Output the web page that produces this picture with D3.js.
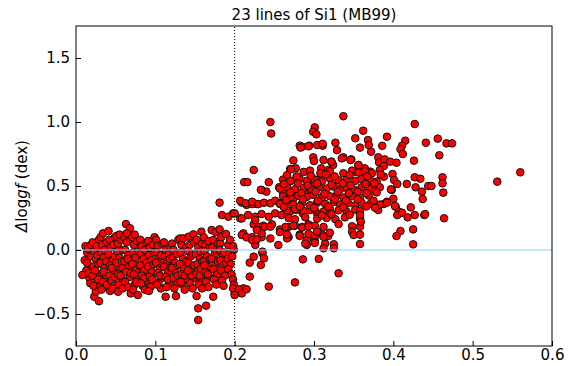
<!DOCTYPE html>
<html lang="en">
<head>
<meta charset="utf-8">
<script src="https://d3js.org/d3.v7.min.js"></script>
<style>
  body { margin: 0; background: #fff; }
  text { font-family: "DejaVu Sans", sans-serif; }
</style>
</head>
<body>
<script>
// chart texts and ticks
var title = "23 lines of Si1 (MB99)";
var xTicks = [0.0, 0.1, 0.2, 0.3, 0.4, 0.5, 0.6];
var yTicks = [-0.5, 0.0, 0.5, 1.0, 1.5];
var xDomain = [0.0, 0.6];
var yDomain = [-0.75, 1.75];
var cutX = 0.2;   // vertical dotted line
var zeroY = 0.0;  // horizontal reference line

// low cluster, x < 0.2  [x, dloggf]
var blobPts = [
  [0.012,0.03],[0.014,-0.02],[0.011,-0.08],[0.016,-0.12],[0.013,-0.16],[0.008,-0.195],[0.017,-0.22],[0.019,-0.05],[0.015,0.01],[0.018,-0.26],[0.016,-0.18],[0.019,0.04],[0.014,-0.1],
  [0.021,0.06],[0.023,-0.01],[0.025,-0.07],[0.022,-0.13],[0.027,-0.19],[0.024,-0.24],[0.029,-0.29],[0.023,-0.365],[0.025,-0.326],[0.029,-0.40],[0.026,0.03],[0.028,-0.11],[0.021,-0.2],[0.027,-0.04],[0.029,0.08],[0.024,-0.16],[0.022,-0.28],[0.028,-0.23],
  [0.031,0.1],[0.033,0.04],[0.032,-0.02],[0.035,-0.06],[0.031,-0.1],[0.036,-0.14],[0.033,-0.18],[0.038,-0.21],[0.034,-0.25],[0.037,-0.29],[0.032,-0.31],[0.039,0.06],[0.036,0.0],[0.038,-0.09],[0.035,-0.17],[0.039,-0.27],[0.034,0.13],
  [0.041,0.148],[0.042,0.08],[0.044,0.02],[0.041,-0.03],[0.046,-0.08],[0.043,-0.12],[0.047,-0.16],[0.042,-0.2],[0.045,-0.24],[0.048,-0.28],[0.043,-0.32],[0.049,0.1],[0.047,0.04],[0.049,-0.05],[0.045,-0.14],[0.049,-0.21],[0.046,-0.3],
  [0.051,0.11],[0.053,0.05],[0.052,-0.01],[0.055,-0.06],[0.051,-0.1],[0.056,-0.15],[0.053,-0.19],[0.058,-0.23],[0.054,-0.27],[0.053,-0.326],[0.057,0.08],[0.059,0.0],[0.058,-0.09],[0.056,-0.2],[0.059,-0.3],[0.055,0.12],[0.059,-0.14],
  [0.063,0.203],[0.068,0.17],[0.061,0.1],[0.064,0.06],[0.062,0.0],[0.066,-0.04],[0.061,-0.09],[0.067,-0.13],[0.063,-0.17],[0.068,-0.21],[0.062,-0.25],[0.066,-0.29],[0.069,-0.339],[0.069,0.09],[0.065,-0.07],[0.069,-0.18],[0.064,0.13],
  [0.071,0.1],[0.073,0.04],[0.072,-0.02],[0.075,-0.06],[0.071,-0.11],[0.076,-0.15],[0.073,-0.19],[0.078,-0.23],[0.074,-0.27],[0.078,-0.352],[0.072,-0.31],[0.077,0.07],[0.079,-0.01],[0.079,-0.12],[0.076,-0.25],[0.074,0.12],
  [0.081,0.08],[0.083,0.03],[0.082,-0.03],[0.085,-0.07],[0.081,-0.12],[0.086,-0.16],[0.083,-0.2],[0.088,-0.24],[0.084,-0.28],[0.087,-0.31],[0.089,0.06],[0.087,0.0],[0.089,-0.1],[0.086,-0.22],[0.082,-0.26],
  [0.091,0.07],[0.093,0.02],[0.092,-0.04],[0.095,-0.08],[0.091,-0.13],[0.096,-0.17],[0.093,-0.21],[0.098,-0.25],[0.094,-0.29],[0.099,0.1],[0.097,0.04],[0.099,-0.02],[0.098,-0.11],[0.096,-0.23],[0.092,-0.32],
  [0.101,0.08],[0.103,0.03],[0.102,-0.02],[0.105,-0.06],[0.101,-0.1],[0.106,-0.14],[0.103,-0.18],[0.108,-0.22],[0.104,-0.26],[0.107,-0.3],[0.109,0.05],[0.107,-0.04],[0.109,-0.12],[0.106,-0.2],[0.102,-0.27],
  [0.111,0.06],[0.113,0.0],[0.112,-0.05],[0.115,-0.09],[0.111,-0.13],[0.116,-0.17],[0.113,-0.21],[0.118,-0.25],[0.113,-0.365],[0.114,-0.29],[0.119,0.02],[0.117,-0.03],[0.119,-0.14],[0.116,-0.23],[0.118,-0.07],
  [0.121,0.05],[0.123,0.0],[0.122,-0.06],[0.125,-0.1],[0.121,-0.14],[0.126,-0.18],[0.123,-0.22],[0.128,-0.26],[0.126,-0.36],[0.124,-0.3],[0.129,0.08],[0.127,-0.03],[0.129,-0.12],[0.128,-0.2],
  [0.131,0.09],[0.133,0.04],[0.132,-0.02],[0.135,-0.07],[0.131,-0.11],[0.136,-0.15],[0.133,-0.19],[0.138,-0.23],[0.134,-0.27],[0.137,-0.31],[0.135,0.091],[0.139,0.02],[0.139,-0.09],[0.137,-0.2],[0.132,-0.25],
  [0.142,0.104],[0.148,0.122],[0.143,0.04],[0.141,-0.01],[0.145,-0.05],[0.142,-0.1],[0.146,-0.14],[0.143,-0.18],[0.148,-0.22],[0.144,-0.26],[0.147,-0.3],[0.149,0.06],[0.147,-0.03],[0.149,-0.12],[0.146,-0.2],[0.141,-0.16],
  [0.158,0.143],[0.152,0.08],[0.154,0.02],[0.151,-0.03],[0.156,-0.07],[0.153,-0.11],[0.157,-0.15],[0.152,-0.19],[0.158,-0.23],[0.155,-0.27],[0.152,-0.36],[0.154,-0.456],[0.154,-0.547],[0.159,0.05],[0.157,-0.01],[0.159,-0.09],[0.156,-0.2],[0.159,-0.3],
  [0.161,0.1],[0.163,0.04],[0.162,-0.01],[0.165,-0.05],[0.161,-0.09],[0.166,-0.13],[0.163,-0.17],[0.168,-0.21],[0.164,-0.25],[0.164,-0.435],[0.167,-0.29],[0.169,0.026],[0.167,0.07],[0.169,-0.07],[0.166,-0.19],[0.162,-0.12],
  [0.171,0.156],[0.173,0.078],[0.172,0.02],[0.175,-0.03],[0.171,-0.07],[0.176,-0.11],[0.173,-0.15],[0.178,-0.19],[0.174,-0.23],[0.173,-0.365],[0.177,-0.27],[0.179,0.05],[0.177,0.0],[0.179,-0.09],[0.176,0.14],
  [0.181,0.161],[0.182,0.052],[0.183,0.1],[0.181,0.0],[0.185,-0.04],[0.182,-0.08],[0.186,-0.12],[0.183,-0.16],[0.188,-0.2],[0.184,-0.24],[0.189,0.125],[0.187,-0.02],[0.189,-0.1],[0.186,-0.28],
  [0.192,0.039],[0.193,-0.03],[0.191,-0.07],[0.195,-0.11],[0.192,-0.15],[0.196,-0.19],[0.198,-0.23],[0.194,0.08],[0.199,0.0],[0.197,-0.05],[0.2,-0.339],[0.199,-0.27]
];

// points around the cut, x ~ 0.18-0.26
var bridgePts = [
  [0.181,0.37],[0.184,0.273],[0.192,0.26],[0.198,0.286],[0.207,0.247],[0.209,0.37],[0.215,0.352],[0.222,0.359],[0.228,0.359],
  [0.207,0.385],[0.214,0.365],[0.222,0.377],[0.23,0.359],[0.237,0.369],[0.245,0.365],[0.251,0.385],[0.257,0.365],
  [0.2,0.286],[0.209,0.247],[0.217,0.273],[0.226,0.26],[0.234,0.281],[0.243,0.26],[0.251,0.286],[0.259,0.273],
  [0.224,0.2],[0.23,0.18],[0.236,0.19],[0.247,0.2],[0.257,0.16],
  [0.211,0.13],[0.222,0.1],[0.234,0.1],[0.245,0.09],[0.257,0.14],
  [0.226,0.04],[0.255,0.039],[0.198,0.03],[0.209,0.117],[0.215,0.099],[0.222,0.078],[0.228,0.083],[0.234,0.13],[0.238,0.182],[0.245,0.182],[0.228,0.156],[0.226,0.234],
  [0.224,-0.052],[0.235,-0.026],[0.233,-0.117],[0.219,-0.099],[0.235,-0.013],[0.237,-0.065],
  [0.219,-0.208],[0.243,-0.286],[0.198,-0.30],[0.211,-0.30],[0.205,-0.307],[0.209,-0.339],[0.215,-0.307],[0.20,-0.352],
  [0.212,0.53],[0.216,0.53],[0.224,0.625],[0.234,0.469],[0.24,0.456],[0.233,0.47],[0.243,0.53],[0.245,1.0],[0.246,0.91]
];

// high cloud, x > 0.25
var cloudPts = [
  [0.337,1.045],[0.301,0.958],[0.299,0.924],[0.303,0.904],[0.427,0.984],[0.362,0.932],[0.352,0.873],[0.368,0.859],[0.369,0.82],[0.372,0.768],[0.358,0.80],[0.392,0.885],[0.386,0.814],
  [0.415,0.854],[0.411,0.815],[0.409,0.787],[0.412,0.75],[0.441,0.838],[0.282,0.815],[0.285,0.807],[0.294,0.815],[0.304,0.82],[0.311,0.815],[0.311,0.83],[0.327,0.838],[0.329,0.78],
  [0.274,0.70],[0.27,0.633],[0.277,0.638],[0.299,0.724],[0.30,0.695],[0.312,0.703],[0.322,0.69],[0.324,0.664],[0.337,0.724],[0.347,0.708],[0.356,0.664],[0.364,0.638],[0.371,0.612],
  [0.381,0.724],[0.382,0.685],[0.389,0.708],[0.396,0.69],[0.404,0.682],[0.388,0.656],[0.383,0.625],[0.426,0.698],[0.399,0.594],[0.401,0.547],[0.405,0.516],[0.398,0.469],[0.40,0.40],
  [0.403,0.338],[0.407,0.299],[0.405,0.273],[0.417,0.516],[0.427,0.568],[0.428,0.49],[0.436,0.456],[0.437,0.398],[0.439,0.273],[0.427,0.273],[0.422,0.333],[0.418,0.255],[0.444,0.50],
  [0.456,0.87],[0.467,0.833],[0.474,0.833],[0.458,0.74],[0.388,0.573],[0.434,0.557],[0.448,0.50],[0.462,0.568],[0.462,0.521],[0.463,0.448],[0.388,0.359],[0.392,0.377],[0.411,0.291],
  [0.44,0.281],[0.464,0.248],[0.409,0.148],[0.404,0.109],[0.425,0.161],[0.425,0.044],[0.531,0.534],[0.56,0.607],[0.381,0.3125],[0.397,0.474],[0.402,0.344],
  [0.309,0.638],[0.318,0.625],[0.322,0.69],[0.335,0.716],[0.346,0.703],[0.356,0.664],[0.352,0.612],[0.367,0.612],
  [0.256,0.49],[0.261,0.448],[0.271,0.54],[0.293,0.81],[0.283,0.80],[0.271,0.63],[0.266,0.377],[0.274,0.403],[0.28,0.43],[0.289,0.456],[0.295,0.482],[0.301,0.521],[0.306,0.547],
  [0.27,0.30],[0.278,0.3125],[0.286,0.286],[0.295,0.3125],[0.304,0.286],[0.268,0.18],[0.276,0.19],[0.285,0.18],[0.293,0.2],[0.301,0.19],
  [0.268,0.1],[0.282,0.12],[0.291,0.08],[0.301,0.08],[0.291,0.04],[0.266,0.091],
  [0.287,0.61],[0.295,0.62],[0.308,0.6],[0.32,0.615],[0.337,0.6],[0.348,0.62],[0.356,0.605],[0.364,0.615],[0.373,0.6],
  [0.261,0.55],[0.27,0.54],[0.282,0.555],[0.291,0.54],[0.301,0.55],[0.31,0.535],[0.32,0.56],[0.331,0.545],[0.341,0.55],[0.352,0.54],[0.36,0.555],[0.371,0.545],[0.379,0.535],
  [0.257,0.48],[0.266,0.49],[0.276,0.475],[0.287,0.485],[0.297,0.47],[0.306,0.49],[0.316,0.48],[0.325,0.495],[0.333,0.475],[0.341,0.485],[0.351,0.47],[0.36,0.49],[0.371,0.48],[0.377,0.47],[0.383,0.49],
  [0.261,0.42],[0.27,0.41],[0.28,0.425],[0.291,0.415],[0.299,0.43],[0.31,0.41],[0.32,0.42],[0.329,0.43],[0.337,0.41],[0.348,0.42],[0.358,0.41],[0.369,0.425],
  [0.257,0.36],[0.266,0.37],[0.274,0.355],[0.285,0.365],[0.295,0.35],[0.304,0.37],[0.314,0.36],[0.325,0.375],[0.333,0.355],[0.343,0.365],[0.352,0.35],[0.36,0.37],[0.371,0.36],[0.383,0.355],[0.392,0.37],
  [0.266,0.31],[0.276,0.32],[0.287,0.305],[0.301,0.315],[0.312,0.3],[0.32,0.32],[0.331,0.31],[0.341,0.3],[0.352,0.315],[0.358,0.305],
  [0.268,0.25],[0.276,0.24],[0.289,0.255],[0.304,0.245],[0.316,0.25],[0.327,0.24],[0.339,0.255],[0.358,0.245],
  [0.264,0.18],[0.274,0.19],[0.285,0.175],[0.293,0.185],[0.312,0.18],[0.348,0.185],[0.358,0.182],
  [0.266,0.12],[0.282,0.11],[0.293,0.125],[0.301,0.115],[0.31,0.12],[0.318,0.11],[0.348,0.143],[0.35,0.117],[0.358,0.12],
  [0.289,0.05],[0.301,0.055],[0.314,0.05],[0.325,0.045],[0.358,0.047],[0.312,0.013],[0.325,0.013],
  [0.304,0.143],[0.312,0.104],[0.32,0.135],[0.331,0.203],[0.358,0.273],[0.359,0.221],
  [0.266,0.585],[0.278,0.575],[0.296,0.58],[0.315,0.59],[0.326,0.575],[0.345,0.585],[0.367,0.575],[0.384,0.59],
  [0.262,0.515],[0.28,0.52],[0.292,0.505],[0.304,0.52],[0.322,0.51],[0.336,0.52],[0.346,0.505],[0.365,0.515],[0.376,0.52],
  [0.27,0.45],[0.284,0.445],[0.302,0.455],[0.313,0.44],[0.33,0.455],[0.344,0.445],[0.355,0.455],[0.366,0.445],[0.379,0.45],
  [0.265,0.39],[0.286,0.395],[0.305,0.385],[0.326,0.395],[0.34,0.385],[0.355,0.395],[0.375,0.385],
  [0.262,0.335],[0.282,0.34],[0.3,0.33],[0.318,0.34],[0.337,0.335],[0.366,0.34],[0.377,0.33],
  [0.322,0.28],[0.345,0.275],[0.31,0.27],
  [0.286,-0.073],[0.306,-0.07],[0.276,-0.253],[0.331,-0.182]
];

var w = 580;
var h = 366;
var margin = {top: 26, right: 28, bottom: 20, left: 76};

var svg = d3.select("body").append("svg")
    .attr("width", w)
    .attr("height", h);

var xScale = d3.scaleLinear().domain(xDomain).range([margin.left, w - margin.right]);
var yScale = d3.scaleLinear().domain(yDomain).range([h - margin.bottom, margin.top]);

var allPts = blobPts.concat(bridgePts, cloudPts);

// clip to plot box
svg.append("clipPath").attr("id", "plotclip")
  .append("rect")
    .attr("x", margin.left).attr("y", margin.top)
    .attr("width", w - margin.left - margin.right)
    .attr("height", h - margin.top - margin.bottom);

var plot = svg.append("g").attr("clip-path", "url(#plotclip)");

plot.selectAll("circle")
  .data(allPts)
  .enter()
  .append("circle")
    .attr("cx", function(d) { return xScale(d[0]); })
    .attr("cy", function(d) { return yScale(d[1]); })
    .attr("r", 3.8)
    .attr("fill", "#ff0000")
    .attr("stroke", "#111")
    .attr("stroke-width", 1);

// reference lines
plot.append("line")
    .attr("x1", xScale(xDomain[0])).attr("x2", xScale(xDomain[1]))
    .attr("y1", yScale(zeroY)).attr("y2", yScale(zeroY))
    .attr("stroke", "#87cefa")
    .attr("stroke-width", 1.2);

plot.append("line")
    .attr("x1", xScale(cutX)).attr("x2", xScale(cutX))
    .attr("y1", yScale(yDomain[0])).attr("y2", yScale(yDomain[1]))
    .attr("stroke", "#000")
    .attr("stroke-width", 1)
    .attr("stroke-dasharray", "1,2");

// axes, ticks inward
var fmt = function(d) { return d3.format(".1f")(d).replace("-", "\u2212"); };

var xAxis = d3.axisBottom(xScale).tickValues(xTicks).tickSize(-5).tickPadding(3).tickFormat(fmt);
var yAxis = d3.axisLeft(yScale).tickValues(yTicks).tickSize(-5).tickPadding(6).tickFormat(fmt);

var gx = svg.append("g")
    .attr("transform", "translate(0," + (h - margin.bottom) + ")")
    .call(xAxis);
var gy = svg.append("g")
    .attr("transform", "translate(" + margin.left + ",0)")
    .call(yAxis);

[gx, gy].forEach(function(g) {
  g.select(".domain").remove();
  g.selectAll("text").attr("font-size", 15).attr("fill", "#000")
    .style("font-family", "DejaVu Sans, sans-serif");
  g.selectAll("line").attr("stroke", "#000");
});

// frame
svg.append("rect")
    .attr("x", margin.left).attr("y", margin.top)
    .attr("width", w - margin.left - margin.right)
    .attr("height", h - margin.top - margin.bottom)
    .attr("fill", "none")
    .attr("stroke", "#000")
    .attr("stroke-width", 1);

// title
svg.append("text")
    .attr("x", (margin.left + w - margin.right) / 2)
    .attr("y", 20)
    .attr("text-anchor", "middle")
    .attr("font-size", 15)
    .text(title);

// y label: Δlog gf (dex)
var ylab = svg.append("text")
    .attr("transform", "translate(27," + ((margin.top + h - margin.bottom) / 2) + ") rotate(-90)")
    .attr("text-anchor", "middle")
    .attr("font-size", 15);
ylab.append("tspan").attr("font-style", "italic").text("\u0394");
ylab.append("tspan").text("log");
ylab.append("tspan").attr("font-style", "italic").text("gf");
ylab.append("tspan").text(" (dex)");
</script>
</body>
</html>
